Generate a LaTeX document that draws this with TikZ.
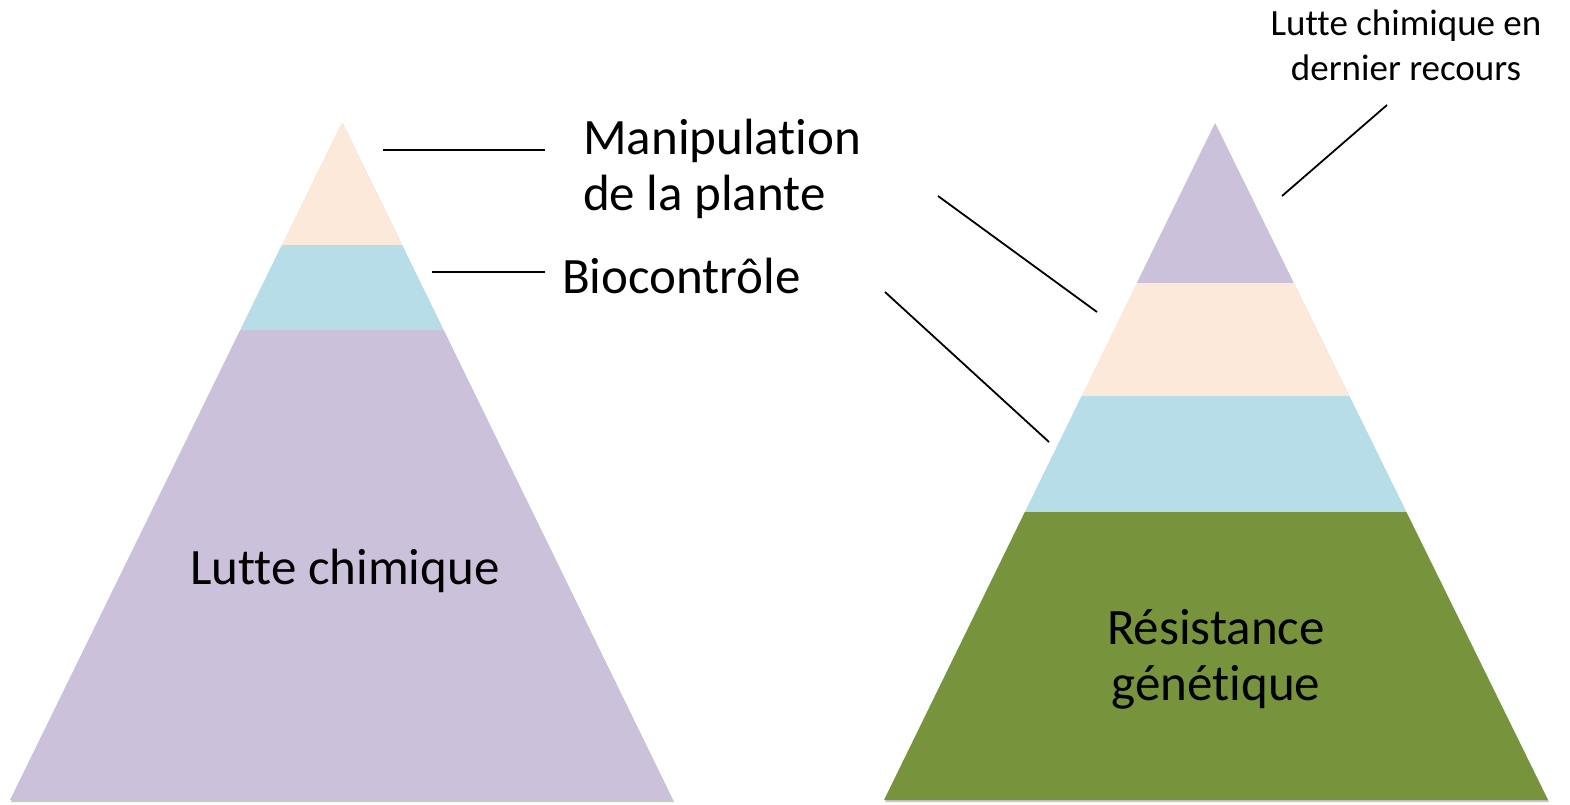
\documentclass[tikz,border=0pt]{standalone}
\usepackage{fontspec}
\setmainfont{Carlito}[Ligatures=NoCommon]
\definecolor{peach}{HTML}{FDE9D9}
\definecolor{aqua}{HTML}{B7DEE8}
\definecolor{lav}{HTML}{CCC1DA}
\definecolor{olive}{HTML}{77933C}
\begin{document}
\begin{tikzpicture}[x=1pt,y=-1pt,
  lead/.style={draw=black,line width=1.8pt},
  bigtext/.style={inner sep=0pt,font=\fontsize{51}{56}\selectfont},
  smalltext/.style={inner sep=0pt,font=\fontsize{37}{45}\selectfont},
  shadowfill/.style={fill=black!22}]
\useasboundingbox (0,0) rectangle (1570,804);
% ---------- left pyramid ----------
\coordinate (LA) at (342,122);
\coordinate (LL) at (10,800);
\coordinate (LR) at (673,800);
\fill[shadowfill] ([shift={(1,2)}]LA) -- ([shift={(1,2)}]LL) -- ([shift={(1,2)}]LR) -- cycle;
\begin{scope}
  \clip (LA) -- (LL) -- (LR) -- cycle;
  \fill[peach] (0,100) rectangle (700,245);
  \fill[aqua] (0,245) rectangle (700,330);
  \fill[lav] (0,330) rectangle (700,804);
\end{scope}
% ---------- right pyramid ----------
\coordinate (RA) at (1215,123);
\coordinate (RL) at (884,800);
\coordinate (RR) at (1548,800);
\fill[shadowfill] ([shift={(1,2)}]RA) -- ([shift={(1,2)}]RL) -- ([shift={(1,2)}]RR) -- cycle;
\begin{scope}
  \clip (RA) -- (RL) -- (RR) -- cycle;
  \fill[lav] (850,100) rectangle (1570,283);
  \fill[peach] (850,283) rectangle (1570,396);
  \fill[aqua] (850,396) rectangle (1570,512);
  \fill[olive] (850,512) rectangle (1570,804);
\end{scope}
% ---------- texts (base anchor = last line's baseline) ----------
\node[bigtext,anchor=base west,align=left] (manip) at (583,210) {Manipulation\\de la plante};
\node[bigtext,anchor=base west] (bio) at (562,293) {Biocontrôle};
\node[bigtext,anchor=base west] (lcl) at (190,584) {Lutte chimique};
\node[bigtext,anchor=base,align=center] (res) at (1216,700) {Résistance\\génétique};
\node[smalltext,anchor=base,align=center] (lcr) at (1406,80) {Lutte chimique en\\dernier recours};
% ---------- leader lines ----------
\coordinate (m1) at (383,150);
\coordinate (m2) at (545,150);
\coordinate (b1) at (432,272);
\coordinate (b2) at (545,272);
\coordinate (m3) at (938,196);
\coordinate (m4) at (1097,312);
\coordinate (b3) at (885,292);
\coordinate (b4) at (1049,442);
\coordinate (c1) at (1387,105);
\coordinate (c2) at (1282,196);
\draw[lead] (m1) -- (m2);
\draw[lead] (b1) -- (b2);
\draw[lead] (m3) -- (m4);
\draw[lead] (b3) -- (b4);
\draw[lead] (c1) -- (c2);
\end{tikzpicture}
\end{document}
